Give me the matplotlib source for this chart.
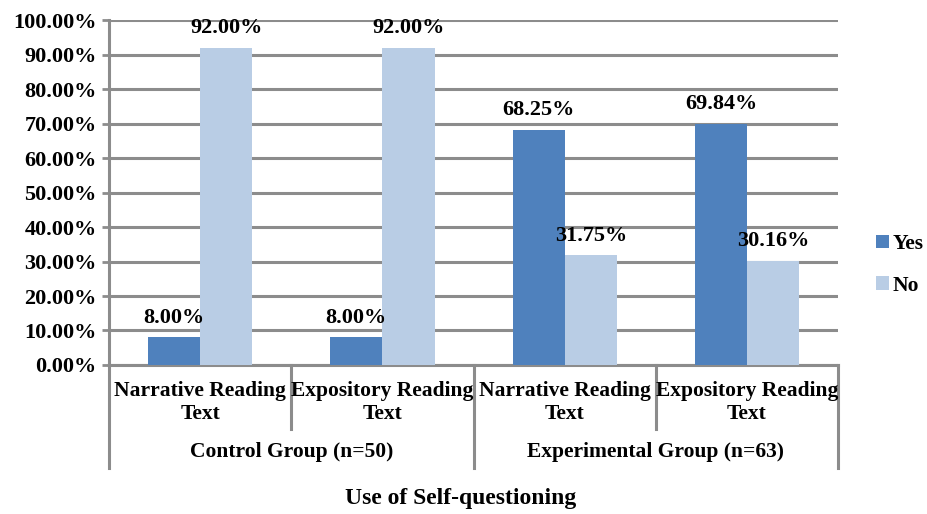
import matplotlib.pyplot as plt
import numpy as np

plt.rcParams['font.family'] = ['Liberation Serif', 'DejaVu Serif']
plt.rcParams['font.weight'] = 'bold'

# data
categories = ['Narrative Reading\nText', 'Expository Reading\nText',
              'Narrative Reading\nText', 'Expository Reading\nText']
groups = ['Control Group (n=50)', 'Experimental Group (n=63)']
yes_vals = [8.00, 8.00, 68.25, 69.84]
no_vals = [92.00, 92.00, 31.75, 30.16]

c_yes = '#4F81BD'
c_no = '#B9CDE5'
grid_c = '#8C8C8C'

fig = plt.figure(figsize=(9.27, 5.14), dpi=100)
ax = fig.add_axes([0.1176, 0.2899, 0.7865, 0.6711])

x = np.arange(len(categories))
w = 0.286
b1 = ax.bar(x - w/2, yes_vals, w, color=c_yes, label='Yes', zorder=3)
b2 = ax.bar(x + w/2, no_vals, w, color=c_no, label='No', zorder=3)

for bars, vals in ((b1, yes_vals), (b2, no_vals)):
    for r, v in zip(bars, vals):
        ax.annotate('%.2f%%' % v, (r.get_x() + r.get_width()/2, v),
                    xytext=(0, 7), textcoords='offset points',
                    ha='center', va='bottom', fontsize=16, fontweight='bold')

ax.set_xlim(-0.5, len(categories) - 0.5)
ax.set_ylim(0, 100)
ax.set_yticks(np.arange(0, 101, 10))
ax.set_yticklabels(['%.2f%%' % t for t in np.arange(0, 101, 10)],
                   fontsize=16, fontweight='bold')
ax.yaxis.grid(True, color=grid_c, linewidth=2.2, zorder=0)
ax.set_axisbelow(True)
ax.tick_params(axis='y', length=5, width=2, color=grid_c, pad=4)
ax.set_xticks([])
for s in ('top', 'right'):
    ax.spines[s].set_visible(False)
ax.spines['left'].set_color(grid_c)
ax.spines['left'].set_linewidth(2.2)
ax.spines['bottom'].set_color(grid_c)
ax.spines['bottom'].set_linewidth(2.2)

# category labels and dividers below the axis
tr = ax.get_xaxis_transform()
for i, lab in enumerate(categories):
    ax.text(i, -0.045, lab, transform=tr, ha='center', va='top',
            fontsize=15.5, fontweight='bold', linespacing=1.2)
for b in np.arange(-0.5, len(categories), 1):
    depth = -0.3 if b in (-0.5, 1.5, 3.5) else -0.185
    ax.plot([b, b], [0, depth], transform=tr, color=grid_c,
            linewidth=2.2, clip_on=False)
for g, lab in enumerate(groups):
    ax.text(0.5 + 2*g, -0.253, lab, transform=tr, ha='center', va='center',
            fontsize=15.5, fontweight='bold')

fig.text(0.497, 0.031, 'Use of Self-questioning', ha='center', va='center',
         fontsize=17, fontweight='bold')

leg = ax.legend(loc='center left', bbox_to_anchor=(1.034, 0.29), frameon=False,
                fontsize=15.5, handlelength=0.6, handleheight=0.6,
                handletextpad=0.2, labelspacing=1.0, borderaxespad=0.2)

plt.savefig('out.png', dpi=100)
